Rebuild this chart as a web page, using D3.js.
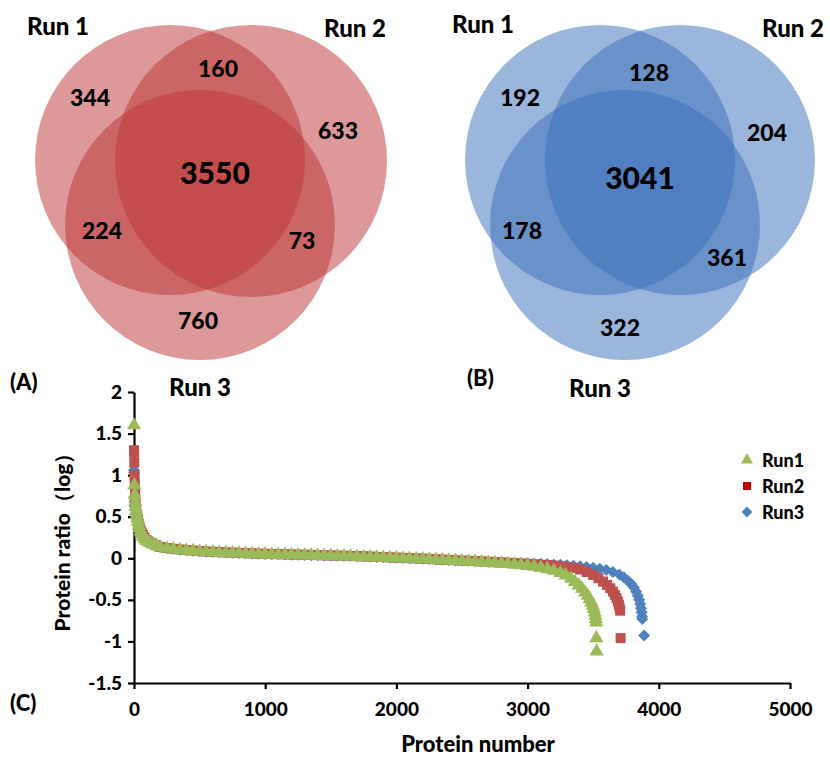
<!DOCTYPE html>
<html>
<head>
<meta charset="utf-8">
<script src="https://cdn.jsdelivr.net/npm/d3@7"></script>
<style>
  body { margin: 0; background: #fff; }
  text { font-family: Lato, "Noto Sans", sans-serif; font-weight: 900; fill: #000; }
</style>
</head>
<body>
<svg id="chart" width="830" height="760"></svg>
<script>
/*
 two venn diagrams (A, B) and a sorted protein ratio scatter (C)
*/

// venn region counts, order: only 1, 1&2, only 2, all three, 1&3, 2&3, only 3
const vennSets = ["Run 1", "Run 2", "Run 3"];
const vennACounts = [344, 160, 633, 3550, 224, 73, 760];
const vennBCounts = [192, 128, 204, 3041, 178, 361, 322];

// scatter: [protein number, log ratio]
const run1Points = [
  [0, 1.60], [3, 0.88], [6, 0.76], [9, 0.68], [12, 0.62], [16, 0.57], [20, 0.52], [25, 0.48],
  [30, 0.44], [36, 0.40], [42, 0.36], [50, 0.32], [58, 0.29], [68, 0.26], [80, 0.23], [95, 0.21],
  [115, 0.19], [140, 0.17], [170, 0.15], [200, 0.13], [250, 0.118], [300, 0.108], [350, 0.100],
  [400, 0.093], [450, 0.087], [500, 0.080], [550, 0.076], [600, 0.072], [650, 0.068], [700, 0.065],
  [750, 0.062], [800, 0.059], [850, 0.056], [900, 0.053], [950, 0.050], [1000, 0.048], [1050, 0.046],
  [1100, 0.044], [1150, 0.042], [1200, 0.040], [1250, 0.038], [1300, 0.036], [1350, 0.034],
  [1400, 0.032], [1450, 0.030], [1500, 0.028], [1550, 0.026], [1600, 0.024], [1650, 0.022],
  [1700, 0.020], [1750, 0.017], [1800, 0.014], [1850, 0.011], [1900, 0.008], [1950, 0.005],
  [2000, 0.002], [2050, -0.001], [2100, -0.004], [2150, -0.007], [2200, -0.010], [2250, -0.014],
  [2300, -0.018], [2350, -0.022], [2400, -0.026], [2450, -0.030], [2500, -0.034], [2550, -0.038],
  [2600, -0.042], [2650, -0.047], [2700, -0.052], [2750, -0.057], [2800, -0.062], [2850, -0.068],
  [2900, -0.075], [2950, -0.082], [3000, -0.090], [3050, -0.100], [3100, -0.115], [3150, -0.130],
  [3200, -0.150], [3250, -0.175], [3290, -0.205], [3330, -0.245], [3360, -0.285], [3390, -0.325],
  [3415, -0.365], [3438, -0.41], [3458, -0.45], [3473, -0.49], [3486, -0.53], [3496, -0.57],
  [3504, -0.61], [3511, -0.65], [3516, -0.69], [3520, -0.73], [3522, -0.77], [3524, -0.96], [3526, -1.12]
];
const run2Points = [
  [0, 1.30], [1, 1.27], [2, 1.15], [4, 1.00], [6, 0.90], [8, 0.80], [10, 0.72], [13, 0.64],
  [16, 0.59], [20, 0.54], [25, 0.50], [30, 0.46], [36, 0.42], [42, 0.38], [50, 0.34], [58, 0.31],
  [68, 0.28], [80, 0.25], [95, 0.22], [115, 0.20], [140, 0.18], [170, 0.158], [200, 0.136],
  [250, 0.124], [300, 0.114], [350, 0.106], [400, 0.099], [450, 0.093], [500, 0.086], [550, 0.082],
  [600, 0.078], [650, 0.074], [700, 0.071], [750, 0.068], [800, 0.065], [850, 0.062], [900, 0.059],
  [950, 0.056], [1000, 0.054], [1050, 0.052], [1100, 0.050], [1150, 0.048], [1200, 0.046],
  [1250, 0.044], [1300, 0.042], [1350, 0.040], [1400, 0.038], [1450, 0.036], [1500, 0.034],
  [1550, 0.032], [1600, 0.030], [1650, 0.028], [1700, 0.026], [1750, 0.023], [1800, 0.020],
  [1850, 0.017], [1900, 0.014], [1950, 0.011], [2000, 0.008], [2050, 0.005], [2100, 0.002],
  [2150, -0.001], [2200, -0.004], [2250, -0.008], [2300, -0.012], [2350, -0.016], [2400, -0.020],
  [2450, -0.024], [2500, -0.028], [2550, -0.031], [2600, -0.034], [2650, -0.038], [2700, -0.042],
  [2750, -0.046], [2800, -0.050], [2850, -0.054], [2900, -0.058], [2950, -0.062], [3000, -0.067],
  [3050, -0.072], [3100, -0.077], [3150, -0.082], [3200, -0.088], [3250, -0.095], [3300, -0.104],
  [3350, -0.116], [3400, -0.135], [3450, -0.165], [3500, -0.20], [3540, -0.24], [3575, -0.28],
  [3605, -0.32], [3630, -0.36], [3650, -0.40], [3665, -0.44], [3678, -0.48], [3688, -0.52],
  [3696, -0.56], [3702, -0.60], [3706, -0.63], [3709, -0.96]
];
const run3Points = [
  [0, 1.06], [1, 1.03], [3, 0.74], [5, 0.68], [8, 0.62], [11, 0.58], [15, 0.54], [20, 0.50],
  [25, 0.47], [30, 0.44], [36, 0.41], [42, 0.37], [50, 0.33], [58, 0.30], [68, 0.27], [80, 0.24],
  [95, 0.215], [115, 0.195], [140, 0.175], [170, 0.155], [200, 0.134], [250, 0.122], [300, 0.112],
  [350, 0.104], [400, 0.097], [450, 0.091], [500, 0.084], [550, 0.080], [600, 0.076], [650, 0.072],
  [700, 0.069], [750, 0.066], [800, 0.063], [850, 0.060], [900, 0.057], [950, 0.054], [1000, 0.052],
  [1050, 0.050], [1100, 0.048], [1150, 0.046], [1200, 0.044], [1250, 0.042], [1300, 0.040],
  [1350, 0.038], [1400, 0.036], [1450, 0.034], [1500, 0.032], [1550, 0.030], [1600, 0.028],
  [1650, 0.026], [1700, 0.024], [1750, 0.021], [1800, 0.018], [1850, 0.015], [1900, 0.012],
  [1950, 0.009], [2000, 0.006], [2050, 0.003], [2100, 0.000], [2150, -0.003], [2200, -0.006],
  [2250, -0.010], [2300, -0.014], [2350, -0.018], [2400, -0.022], [2450, -0.026], [2500, -0.030],
  [2550, -0.033], [2600, -0.036], [2650, -0.039], [2700, -0.042], [2750, -0.045], [2800, -0.048],
  [2850, -0.051], [2900, -0.054], [2950, -0.057], [3000, -0.060], [3050, -0.063], [3100, -0.066],
  [3150, -0.070], [3200, -0.074], [3250, -0.078], [3300, -0.083], [3350, -0.089], [3400, -0.096],
  [3450, -0.104], [3500, -0.114], [3550, -0.126], [3600, -0.142], [3650, -0.165], [3700, -0.195],
  [3735, -0.23], [3765, -0.27], [3790, -0.31], [3810, -0.35], [3827, -0.40], [3840, -0.45],
  [3850, -0.50], [3858, -0.55], [3864, -0.60], [3869, -0.65], [3872, -0.70], [3874, -0.73],
  [3888, -0.93]
];

const seriesNames = ["Run1", "Run2", "Run3"];
const xTicks = [0, 1000, 2000, 3000, 4000, 5000];
const yTicks = [-1.5, -1, -0.5, 0, 0.5, 1, 1.5, 2];

const W = 830, H = 760;
const svg = d3.select("#chart");
svg.append("rect").attr("width", W).attr("height", H).attr("fill", "#fff");

/* ---------- venn diagrams ---------- */

const panels = [
  {
    counts: vennACounts,
    color: "rgb(188, 52, 52)",
    circles: [[170, 160, 135], [251, 161, 136], [200, 225, 135]],
    labels: [[90, 97], [218, 68], [338, 130], [215, 172], [102, 230], [302, 240], [198, 320]],
    titles: [[58, 25], [355, 27], [200, 386]],
    letter: ["(A)", 10, 390]
  },
  {
    counts: vennBCounts,
    color: "rgb(56, 110, 186)",
    circles: [[600, 160, 135], [680, 160, 135], [625, 225, 135]],
    labels: [[520, 97], [649, 72], [767, 132], [640, 177], [522, 230], [727, 257], [620, 327]],
    titles: [[483, 23], [793, 27], [600, 387]],
    letter: ["(B)", 467, 386]
  }
];

panels.forEach(p => {
  const g = svg.append("g");
  g.selectAll("circle")
    .data(p.circles)
    .join("circle")
    .attr("cx", d => d[0])
    .attr("cy", d => d[1])
    .attr("r", d => d[2])
    .attr("fill", p.color)
    .attr("fill-opacity", 0.5);

  g.selectAll("text.count")
    .data(p.counts)
    .join("text")
    .attr("class", "count")
    .attr("x", (d, i) => p.labels[i][0])
    .attr("y", (d, i) => p.labels[i][1])
    .attr("text-anchor", "middle")
    .attr("dominant-baseline", "central")
    .attr("font-size", (d, i) => i == 3 ? 30 : 23)
    .text(d => d);

  g.selectAll("text.title")
    .data(vennSets)
    .join("text")
    .attr("class", "title")
    .attr("x", (d, i) => p.titles[i][0])
    .attr("y", (d, i) => p.titles[i][1])
    .attr("text-anchor", "middle")
    .attr("dominant-baseline", "central")
    .attr("font-size", 24)
    .text(d => d);

  g.append("text")
    .attr("x", p.letter[1])
    .attr("y", p.letter[2])
    .attr("font-size", 22)
    .text(p.letter[0]);
});

svg.append("text")
  .attr("x", 10).attr("y", 711)
  .attr("font-size", 22)
  .text("(C)");

/* ---------- scatter ---------- */

const x = d3.scaleLinear().domain([0, 5000]).range([134, 790]);
const y = d3.scaleLinear().domain([-1.5, 2]).range([683, 392]);

const fmt = v => String(v).replace("\u2212", "-");

svg.append("g")
  .attr("transform", `translate(0, ${y(-1.5)})`)
  .call(d3.axisBottom(x).tickValues(xTicks).tickSize(6).tickSizeOuter(0).tickPadding(14).tickFormat(fmt))
  .call(g => g.selectAll("line, path").attr("stroke", "#000").attr("stroke-width", 2.2))
  .call(g => g.selectAll("text").attr("font-size", 19).attr("font-family", null));

svg.append("g")
  .attr("transform", `translate(${x(0)}, 0)`)
  .call(d3.axisLeft(y).tickValues(yTicks).tickSize(6).tickSizeOuter(0).tickPadding(6).tickFormat(fmt))
  .call(g => g.selectAll("line, path").attr("stroke", "#000").attr("stroke-width", 2.2))
  .call(g => g.selectAll("text").attr("font-size", 19).attr("font-family", null));

svg.append("text")
  .attr("x", 478).attr("y", 752)
  .attr("text-anchor", "middle")
  .attr("font-size", 22)
  .text("Protein number");

svg.append("text")
  .attr("transform", `translate(70, 537) rotate(-90)`)
  .attr("text-anchor", "middle")
  .attr("font-size", 21)
  .text("Protein ratio（log）");

const colors = ["#9bbb59", "#c0504d", "#4f81bd"];
const symbols = [
  d3.symbol().type(d3.symbolTriangle).size(88),
  d3.symbol().type(d3.symbolSquare).size(100),
  d3.symbol().type(d3.symbolSquare).size(72)
];
const rotations = [0, 0, 45];
const allPoints = [run1Points, run2Points, run3Points];

// Run3 drawn first so Run1 ends up on top
for (let s = 2; s >= 0; s--) {
  svg.append("g")
    .attr("fill", colors[s])
    .selectAll("path")
    .data(allPoints[s])
    .join("path")
    .attr("transform", d => `translate(${x(d[0])}, ${y(d[1])}) rotate(${rotations[s]})`)
    .attr("d", symbols[s]());
}

/* ---------- legend ---------- */

const legend = svg.append("g").attr("transform", "translate(747, 460)");
seriesNames.forEach((name, i) => {
  const row = legend.append("g").attr("transform", `translate(0, ${i * 26})`);
  row.append("path")
    .attr("d", symbols[i].size([64, 64, 60][i])())
    .attr("transform", `rotate(${rotations[i]})`)
    .attr("fill", i == 1 ? "#c00000" : colors[i]);
  row.append("text")
    .attr("x", 15)
    .attr("dominant-baseline", "central")
    .attr("font-size", 18)
    .text(name);
});
</script>
</body>
</html>
